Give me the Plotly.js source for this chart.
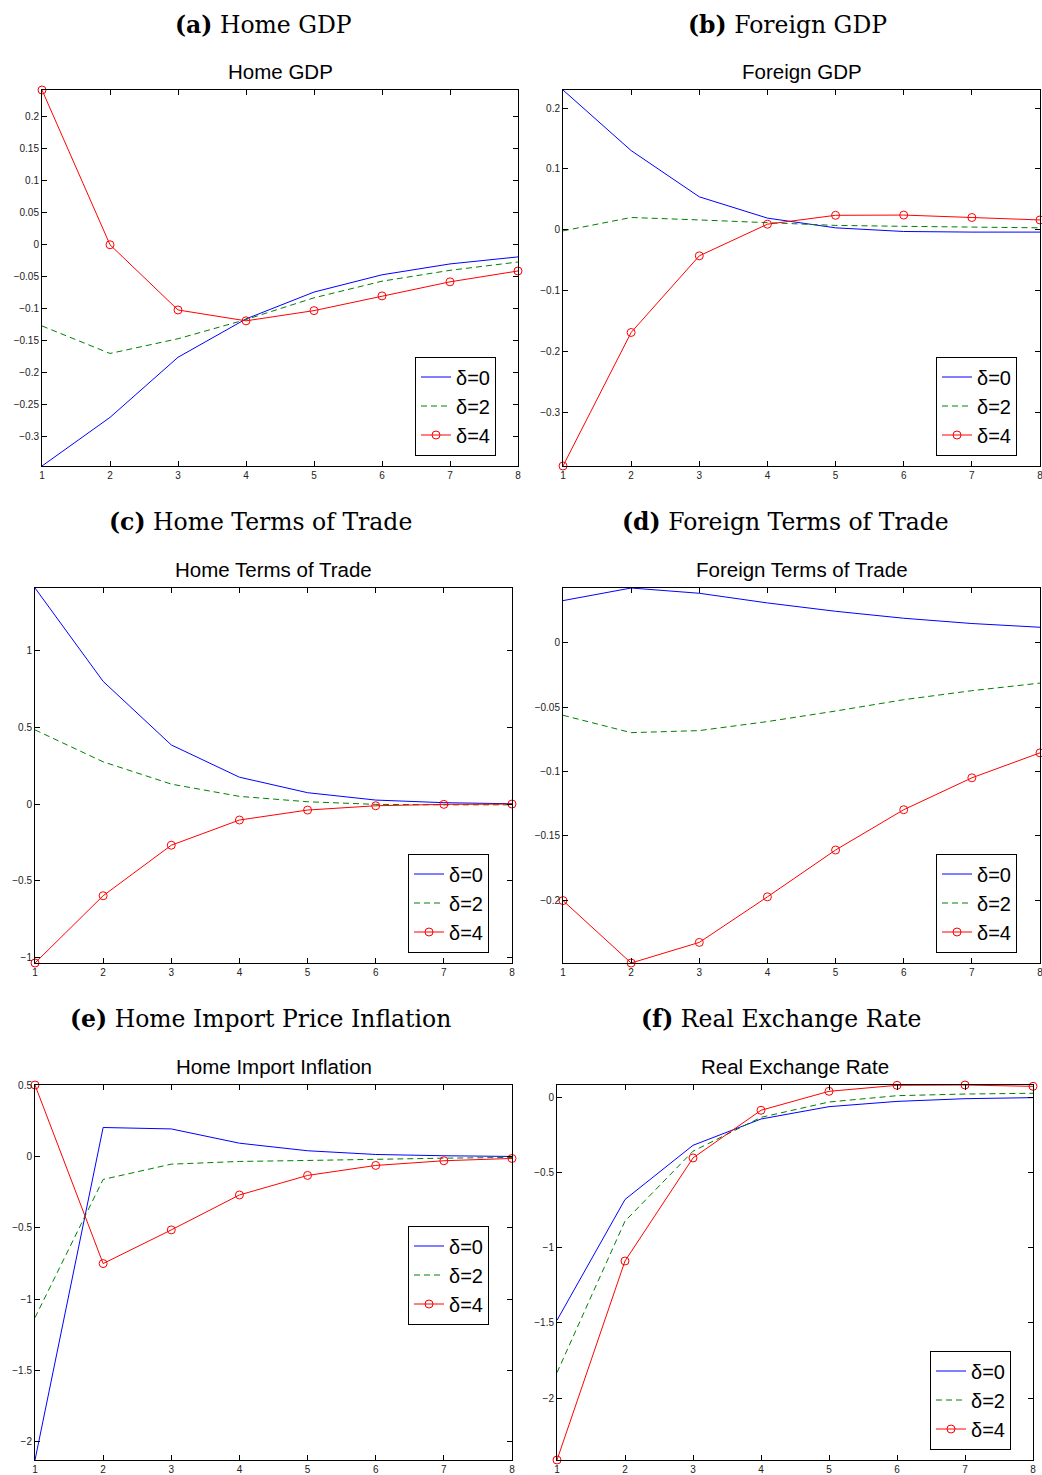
<!DOCTYPE html>
<html>
<head>
<meta charset="utf-8">
<script src="https://cdn.plot.ly/plotly-3.0.1.min.js"></script>
<style>html,body{margin:0;padding:0;background:#fff;}</style>
</head>
<body>
<div id="chart" style="width:1042px;height:1475px;"></div>
<script>
// ---- data ----
const periods = [1, 2, 3, 4, 5, 6, 7, 8];
const seriesNames = ["δ=0", "δ=2", "δ=4"];

const homeGDP_d0 = [-0.346, -0.270, -0.176, -0.116, -0.074, -0.047, -0.030, -0.019];
const homeGDP_d2 = [-0.127, -0.170, -0.147, -0.117, -0.083, -0.057, -0.040, -0.027];
const homeGDP_d4 = [0.242, 0.000, -0.102, -0.119, -0.103, -0.080, -0.058, -0.041];

const foreignGDP_d0 = [0.2296, 0.130, 0.054, 0.019, 0.003, -0.003, -0.004, -0.004];
const foreignGDP_d2 = [-0.002, 0.020, 0.016, 0.011, 0.007, 0.0055, 0.0044, 0.003];
const foreignGDP_d4 = [-0.3885, -0.169, -0.043, 0.009, 0.0236, 0.024, 0.020, 0.016];

const homeTOT_d0 = [1.407, 0.799, 0.385, 0.175, 0.074, 0.026, 0.009, 0.002];
const homeTOT_d2 = [0.483, 0.275, 0.130, 0.050, 0.015, -0.002, -0.005, -0.005];
const homeTOT_d4 = [-1.035, -0.597, -0.268, -0.104, -0.039, -0.011, -0.002, 0.000];

const foreignTOT_d0 = [0.0328, 0.0426, 0.0385, 0.0310, 0.0245, 0.0191, 0.0150, 0.0121];
const foreignTOT_d2 = [-0.0563, -0.0698, -0.0682, -0.0612, -0.0530, -0.0442, -0.0372, -0.0313];
const foreignTOT_d4 = [-0.2003, -0.2488, -0.2328, -0.1974, -0.1610, -0.1297, -0.1049, -0.0855];

const importInfl_d0 = [-2.128, 0.203, 0.193, 0.093, 0.040, 0.014, 0.005, 0.000];
const importInfl_d2 = [-1.130, -0.161, -0.054, -0.035, -0.028, -0.019, -0.012, -0.007];
const importInfl_d4 = [0.501, -0.751, -0.515, -0.270, -0.133, -0.063, -0.030, -0.014];

const rer_d0 = [-1.482, -0.679, -0.319, -0.144, -0.062, -0.027, -0.009, -0.002];
const rer_d2 = [-1.830, -0.823, -0.358, -0.133, -0.031, 0.011, 0.022, 0.027];
const rer_d4 = [-2.411, -1.088, -0.403, -0.086, 0.040, 0.080, 0.082, 0.073];

const captionLetters = ["(a)", "(b)", "(c)", "(d)", "(e)", "(f)"];
const captions = ["Home GDP", "Foreign GDP", "Home Terms of Trade", "Foreign Terms of Trade", "Home Import Price Inflation", "Real Exchange Rate"];
const plotTitles = ["Home GDP", "Foreign GDP", "Home Terms of Trade", "Foreign Terms of Trade", "Home Import Inflation", "Real Exchange Rate"];
const yDticks = [0.05, 0.1, 0.5, 0.05, 0.5, 0.5];

// ---- layout geometry (pixels) ----
const W = 1042, H = 1475;
const panels = [
  {data: [homeGDP_d0, homeGDP_d2, homeGDP_d4], box: [42, 518, 90, 466], leg: [415, 356.5], cap: [263, 25]},
  {data: [foreignGDP_d0, foreignGDP_d2, foreignGDP_d4], box: [563, 1040, 90, 466], leg: [936, 356.5], cap: [787, 25]},
  {data: [homeTOT_d0, homeTOT_d2, homeTOT_d4], box: [35, 512, 588, 963], leg: [408, 853.5], cap: [260, 522]},
  {data: [foreignTOT_d0, foreignTOT_d2, foreignTOT_d4], box: [563, 1040, 588, 963], leg: [936, 853.5], cap: [785, 522]},
  {data: [importInfl_d0, importInfl_d2, importInfl_d4], box: [35, 512, 1085, 1460], leg: [408, 1225.5], cap: [260, 1019]},
  {data: [rer_d0, rer_d2, rer_d4], box: [557, 1033, 1085, 1460], leg: [930, 1350.5], cap: [781, 1019]}
];

const styles = [
  {mode: "lines", line: {color: "#0000ff", width: 1}},
  {mode: "lines", line: {color: "#008000", width: 1, dash: "6px,4px"}},
  {mode: "lines+markers", line: {color: "#ff0000", width: 1},
   marker: {symbol: "circle-open", size: 8, color: "#ff0000", line: {color: "#ff0000", width: 1}}}
];

const traces = [];
const layout = {
  width: W, height: H,
  margin: {l: 0, r: 0, t: 0, b: 0},
  paper_bgcolor: "#fff", plot_bgcolor: "#fff",
  font: {family: "Liberation Sans, Arial, sans-serif", color: "#000"},
  annotations: [],
  showlegend: true
};

panels.forEach((p, i) => {
  const n = i + 1;
  const xa = "x" + (n === 1 ? "" : n), ya = "y" + (n === 1 ? "" : n);
  const legName = n === 1 ? "legend" : "legend" + n;
  p.data.forEach((vals, k) => {
    const t = Object.assign({
      type: "scatter", x: periods, y: vals, name: seriesNames[k],
      xaxis: xa, yaxis: ya, legend: legName, cliponaxis: false, hoverinfo: "skip"
    }, JSON.parse(JSON.stringify(styles[k])));
    traces.push(t);
  });
  const all = [].concat(...p.data);
  const ymin = Math.min(...all), ymax = Math.max(...all);
  const [x0, x1, y0, y1] = p.box;
  const axCommon = {
    showline: true, linecolor: "#000", linewidth: 1, mirror: "ticks",
    ticks: "inside", ticklen: 5, tickwidth: 1, tickcolor: "#000",
    showgrid: false, zeroline: false, ticklabeloverflow: "allow",
    tickfont: {size: 10, color: "#222", family: "Liberation Sans, Arial, sans-serif"}
  };
  layout["xaxis" + (n === 1 ? "" : n)] = Object.assign({}, axCommon, {
    domain: [x0 / W, x1 / W], anchor: ya, range: [1, 8], dtick: 1, tick0: 1
  });
  layout["yaxis" + (n === 1 ? "" : n)] = Object.assign({}, axCommon, {
    domain: [1 - y1 / H, 1 - y0 / H], anchor: xa, range: [ymin, ymax], dtick: yDticks[i], tick0: 0
  });
  layout[legName] = {
    x: p.leg[0] / W, y: 1 - p.leg[1] / H, xanchor: "left", yanchor: "top",
    bgcolor: "#fff", bordercolor: "#000", borderwidth: 1,
    font: {size: 20, family: "Liberation Sans, Arial, sans-serif", color: "#000"},
    tracegroupgap: 0, itemwidth: 30
  };
  // plot title
  layout.annotations.push({
    text: plotTitles[i], xref: "paper", yref: "paper",
    x: (x0 + x1) / 2 / W, y: 1 - (y0 - 5) / H, xanchor: "center", yanchor: "bottom",
    showarrow: false, font: {size: 20.5, family: "Liberation Sans, Arial, sans-serif", color: "#000"}
  });
  // caption
  layout.annotations.push({
    text: "<b>" + captionLetters[i] + "</b> " + captions[i], xref: "paper", yref: "paper",
    x: p.cap[0] / W, y: 1 - p.cap[1] / H, xanchor: "center", yanchor: "middle",
    showarrow: false, font: {size: 23.5, family: "DejaVu Serif, serif", color: "#000"}
  });
});

Plotly.newPlot("chart", traces, layout, {staticPlot: true, displayModeBar: false});
</script>
</body>
</html>
